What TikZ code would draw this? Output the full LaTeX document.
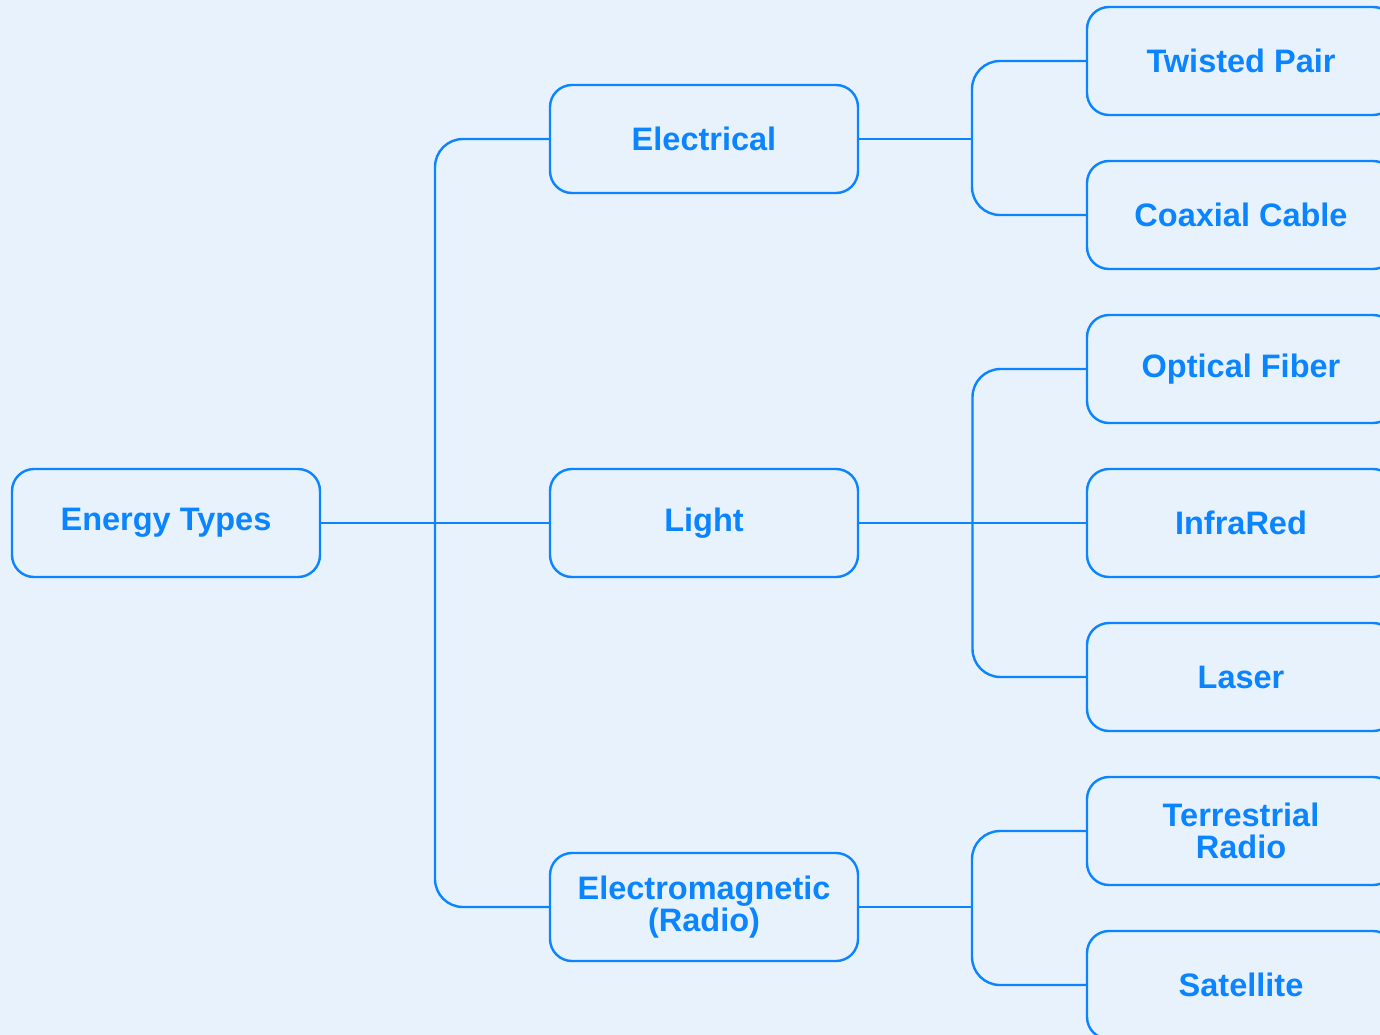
\documentclass[tikz,border=0pt]{standalone}
\usepackage{fontspec}
\setmainfont{Liberation Sans}
\usepackage{xcolor}
\usepackage{tikz}
\usetikzlibrary{positioning, calc}

\definecolor{mapblue}{HTML}{0A84FF}
\definecolor{mapbg}{HTML}{E8F2FD}

\begin{document}
\begin{tikzpicture}[
    node distance=46pt and 230pt,
    box/.style={draw=mapblue, line width=2.4pt, outer sep=0pt, rounded corners=22pt, minimum width=308pt, minimum height=108pt, text=mapblue, align=center, font=\fontsize{32.5}{32}\selectfont\bfseries},
    rootbox/.style={box},
    topic/.style={box},
    leaf/.style={box},
    conn/.style={draw=mapblue, line width=2.4pt, rounded corners=28pt},
]

% === Canvas ===
\useasboundingbox (0,0) rectangle (1380pt,-1035pt);
\fill[mapbg] (0,0) rectangle (1380pt,-1035pt);
\clip (0,0) rectangle (1380pt,-1035pt);

% === Root ===
\node[rootbox] (energy) at (166pt,-523pt) {Energy Types};

% === Topics ===
\node[topic, right=230pt of energy] (light) {Light};
\node[topic, above=276pt of light] (electrical) {Electrical};
\node[topic, below=276pt of light] (em) {Electromagnetic\\(Radio)};

% === Leaves ===
\node[leaf, right=229pt of light] (infrared) {InfraRed};
\node[leaf, above=of infrared] (optical) {Optical Fiber};
\node[leaf, above=of optical] (coaxial) {Coaxial Cable};
\node[leaf, above=of coaxial] (twisted) {Twisted Pair};
\node[leaf, below=of infrared] (laser) {Laser};
\node[leaf, below=of laser] (terrestrial) {Terrestrial\\Radio};
\node[leaf, below=of terrestrial] (satellite) {Satellite};

% Junctions
\coordinate (jroot) at ($(energy.east)!0.5!(light.west)$);
\coordinate (jlight) at ($(light.east)!0.5!(infrared.west)$);
\coordinate[right=114pt of electrical.east] (jelec);
\coordinate[right=114pt of em.east] (jem);

% Root -> topics
\draw[conn] (energy.east) -- (light.west);
\draw[conn] (jroot) |- (electrical.west);
\draw[conn] (jroot) |- (em.west);

% Electrical -> leaves
\draw[conn] (electrical.east) -- (jelec);
\draw[conn] (jelec) |- (twisted.west);
\draw[conn] (jelec) |- (coaxial.west);

% Light -> leaves
\draw[conn] (light.east) -- (infrared.west);
\draw[conn] (jlight) |- (optical.west);
\draw[conn] (jlight) |- (laser.west);

% Electromagnetic -> leaves
\draw[conn] (em.east) -- (jem);
\draw[conn] (jem) |- (terrestrial.west);
\draw[conn] (jem) |- (satellite.west);

\end{tikzpicture}
\end{document}
